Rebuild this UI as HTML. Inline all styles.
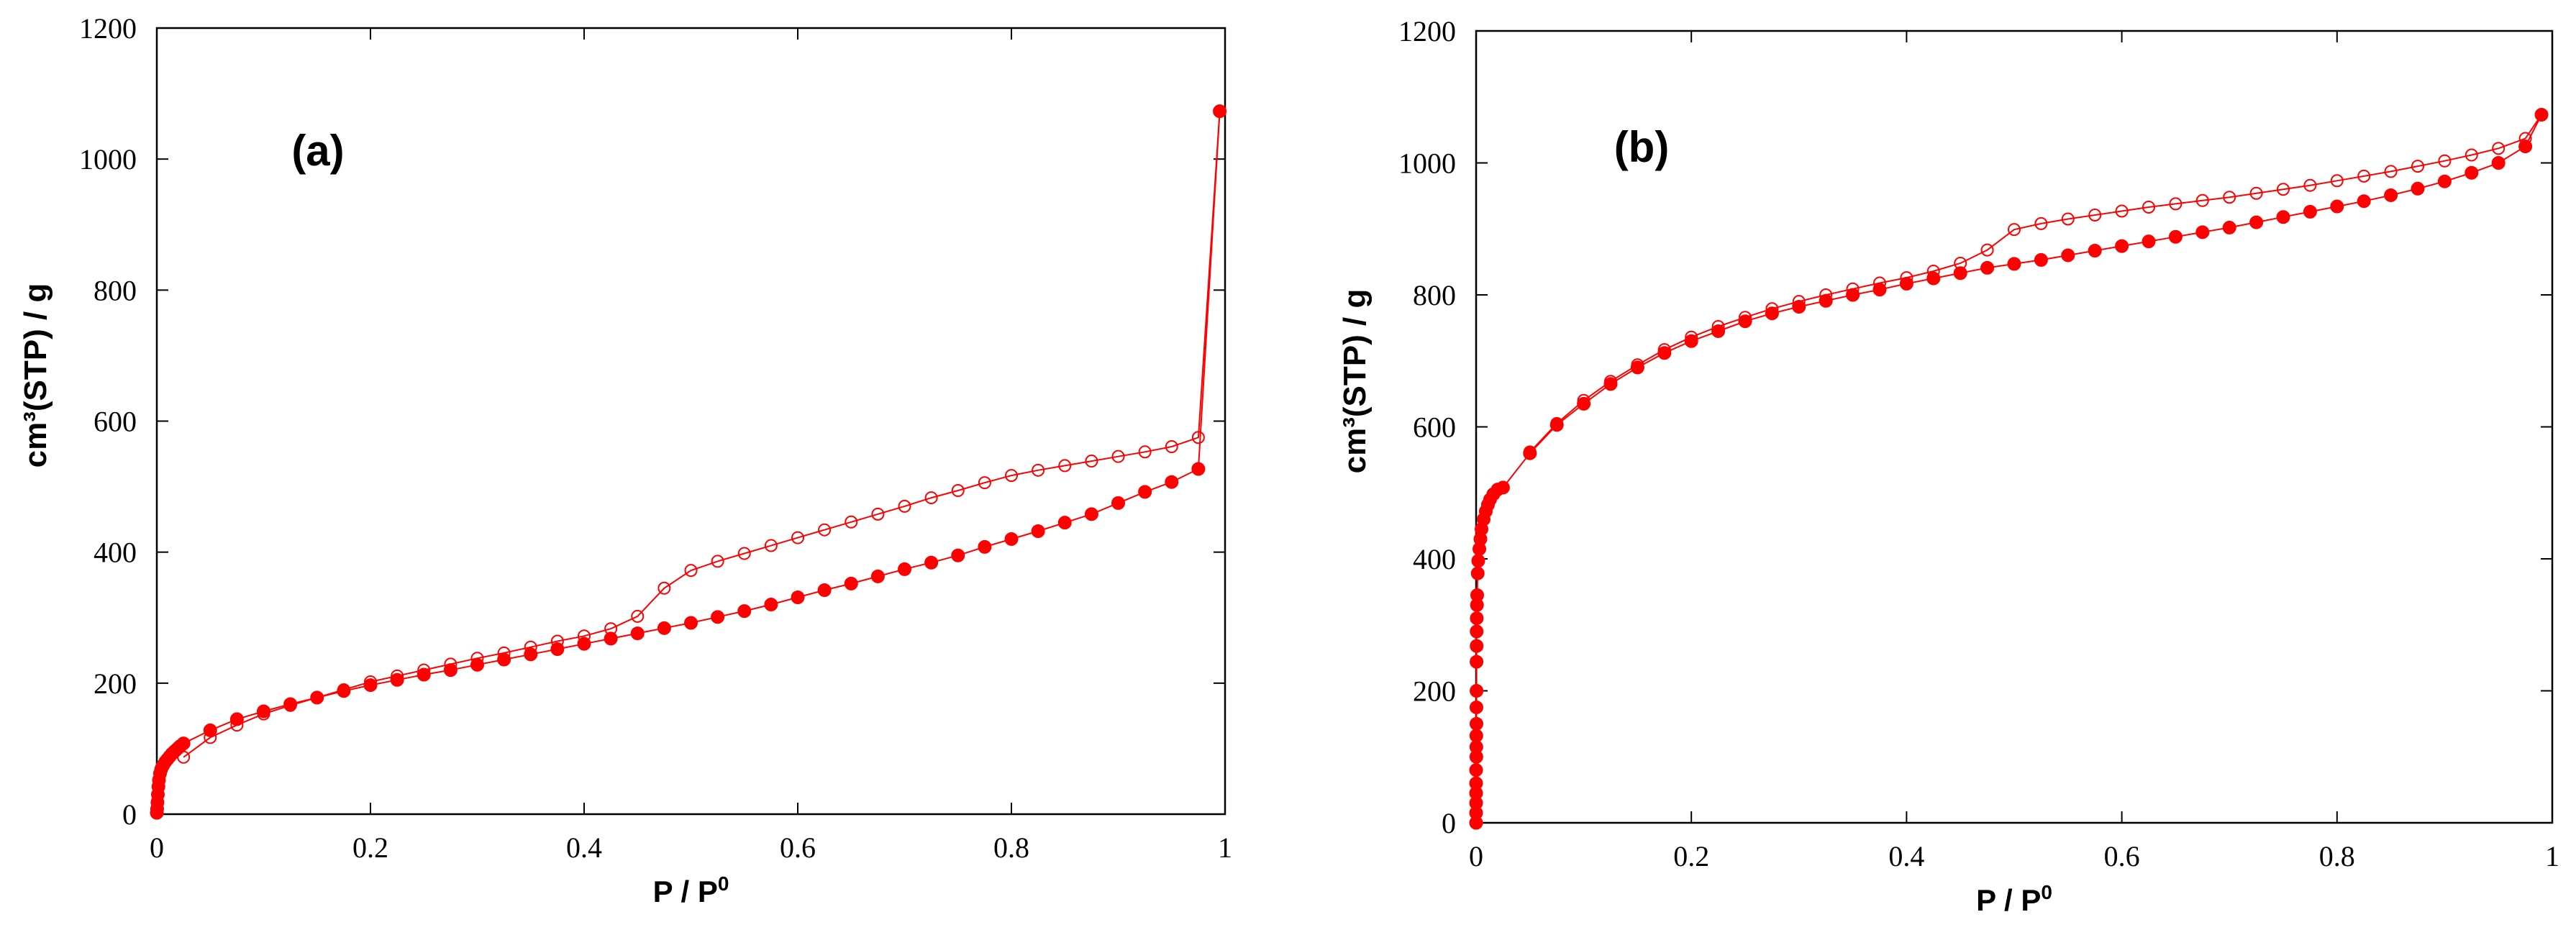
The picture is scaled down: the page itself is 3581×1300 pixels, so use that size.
<!DOCTYPE html>
<html><head><meta charset="utf-8"><style>
html,body{margin:0;padding:0;background:#fff;}
svg{display:block;}
.tick{font-family:"Liberation Serif",serif;font-size:40px;fill:#000;}
.title{font-family:"Liberation Sans",sans-serif;font-weight:bold;fill:#000;}
</style></head><body>
<svg id="fig" width="3581" height="1300" viewBox="0 0 3581 1300" xmlns="http://www.w3.org/2000/svg"></svg>
<script>
// ---- Panel (a) data ----
const aAdsX = [0,0.0003,0.0006,0.001,0.0015,0.002,0.003,0.004,0.005,0.006,0.008,0.01,0.012,0.014,0.016,0.018,0.02,0.022,0.025,0.05,0.075,0.1,0.125,0.15,0.175,0.2,0.225,0.25,0.275,0.3,0.325,0.35,0.375,0.4,0.425,0.45,0.475,0.5,0.525,0.55,0.575,0.6,0.625,0.65,0.675,0.7,0.725,0.75,0.775,0.8,0.825,0.85,0.875,0.9,0.925,0.95,0.975,0.995];
const aAdsY = [2,8,18,30,42,52,62,68,72,75,80,84,88,92,95,98,101,104,108,128,145,157,168,178,188,197,205,213,220,228,236,244,252,260,268,276,284,292,301,310,320,331,342,352,363,374,384,395,408,420,432,445,458,475,492,507,527,1073];
const aDesX = [0.995,0.975,0.95,0.925,0.9,0.875,0.85,0.825,0.8,0.775,0.75,0.725,0.7,0.675,0.65,0.625,0.6,0.575,0.55,0.525,0.5,0.475,0.45,0.425,0.4,0.375,0.35,0.325,0.3,0.275,0.25,0.225,0.2,0.175,0.15,0.125,0.1,0.075,0.05,0.025];
const aDesY = [1073,575,561,553,546,539,532,525,517,506,494,483,470,458,446,434,422,410,398,386,372,345,302,283,272,264,255,246,238,229,220,211,202,190,178,166,153,136,117,87];
// ---- Panel (b) data ----
const bAdsX = [0,0,0,0,0,0,0.0002,0.0002,0.0002,0.0003,0.0003,0.0004,0.0004,0.0005,0.0005,0.0006,0.0008,0.001,0.0015,0.002,0.003,0.004,0.005,0.007,0.009,0.011,0.013,0.016,0.02,0.025,0.05,0.075,0.1,0.125,0.15,0.175,0.2,0.225,0.25,0.275,0.3,0.325,0.35,0.375,0.4,0.425,0.45,0.475,0.5,0.525,0.55,0.575,0.6,0.625,0.65,0.675,0.7,0.725,0.75,0.775,0.8,0.825,0.85,0.875,0.9,0.925,0.95,0.975,0.99];
const bAdsY = [0,15,30,45,60,80,100,115,132,150,175,200,244,268,290,310,330,345,378,397,415,430,445,460,472,482,490,498,505,508,560,603,635,665,690,712,730,745,760,772,782,791,800,808,817,825,833,841,847,853,860,867,874,881,888,895,902,910,918,926,934,942,951,961,972,985,1000,1025,1073];
const bDesX = [0.99,0.975,0.95,0.925,0.9,0.875,0.85,0.825,0.8,0.775,0.75,0.725,0.7,0.675,0.65,0.625,0.6,0.575,0.55,0.525,0.5,0.475,0.45,0.425,0.4,0.375,0.35,0.325,0.3,0.275,0.25,0.225,0.2,0.175,0.15,0.125,0.1,0.075,0.05];
const bDesY = [1073,1037,1022,1012,1003,995,987,980,973,966,960,954,948,943,938,933,927,921,915,908,899,868,848,836,826,818,809,800,790,779,766,752,736,717,694,669,640,605,562];
const xTicks = [0,0.2,0.4,0.6,0.8,1];
const xTickLabels = ["0","0.2","0.4","0.6","0.8","1"];
const yTicks = [0,200,400,600,800,1000,1200];
const yTickLabels = ["0","200","400","600","800","1000","1200"];

const NS="http://www.w3.org/2000/svg";
const svg=document.getElementById('fig');
function mk(tag,attrs,parent){const e=document.createElementNS(NS,tag);for(const k in attrs)e.setAttribute(k,attrs[k]);(parent||svg).appendChild(e);return e;}

function panel(cfg){
  const g=mk('g',{});
  
  
  const sx=v=>cfg.x0+v*(cfg.x1-cfg.x0);
  const sy=v=>cfg.yb-v/1200*(cfg.yb-cfg.yt);
  const fr=mk('rect',{x:cfg.x0,y:cfg.yt,width:cfg.x1-cfg.x0,height:cfg.yb-cfg.yt,fill:'none',stroke:'#000','stroke-width':2.5},g);
  
  
  xTicks.forEach((t,i)=>{
    const x=sx(t);
    mk('line',{x1:x,y1:cfg.yb,x2:x,y2:cfg.yb-16,stroke:'#000','stroke-width':2},g);
    mk('line',{x1:x,y1:cfg.yt,x2:x,y2:cfg.yt+16,stroke:'#000','stroke-width':2},g);
    const tx=mk('text',{x:x,y:cfg.yb+60,'text-anchor':'middle',class:'tick'},g);
    tx.textContent=xTickLabels[i];
    
    
  });
  yTicks.forEach((t,i)=>{
    const y=sy(t);
    mk('line',{x1:cfg.x0,y1:y,x2:cfg.x0+16,y2:y,stroke:'#000','stroke-width':2},g);
    mk('line',{x1:cfg.x1,y1:y,x2:cfg.x1-16,y2:y,stroke:'#000','stroke-width':2},g);
    const ty=mk('text',{x:cfg.x0-28,y:y+14,'text-anchor':'end',class:'tick'},g);
    ty.textContent=yTickLabels[i];
    
    
  });
  const xt=mk('text',{x:(cfg.x0+cfg.x1)/2,y:cfg.yb+122,'text-anchor':'middle',class:'title','font-size':42},g);
  xt.innerHTML='P / P<tspan dy="-16" font-size="28">0</tspan>';
  
  
  const yt=mk('text',{x:0,y:0,'text-anchor':'middle',class:'title','font-size':44,transform:`translate(${cfg.ytx},${cfg.yty}) rotate(-90)`},g);
  yt.textContent='cm³(STP) / g';
  
  
  const lab=mk('text',{x:cfg.lx,y:cfg.ly,'text-anchor':'middle',class:'title','font-size':60},g);
  lab.textContent=cfg.label;
  
  
  function series(xs,ys,filled,nm){
    const sg=mk('g',{},g);
    
    
    const pts=xs.map((v,i)=>sx(v).toFixed(1)+','+sy(ys[i]).toFixed(1)).join(' ');
    mk('polyline',{points:pts,fill:'none',stroke:'#ff0000','stroke-width':2},sg);
    xs.forEach((v,i)=>{
      const m=mk('ellipse',{cx:sx(v),cy:sy(ys[i]),rx:filled?9:8,ry:filled?9:8,fill:filled?'#ff0000':'none',stroke:'#ff0000','stroke-width':filled?1:2},sg);
      
      
    });
  }
  series(cfg.dx,cfg.dy,false,'desorption-series');
  series(cfg.ax,cfg.ay,true,'adsorption-series');
}
panel({name:'panel-a',x0:218,x1:1703,yt:39,yb:1132,ytx:64,yty:522,lx:442,ly:230,label:'(a)',ax:aAdsX,ay:aAdsY,dx:aDesX,dy:aDesY});
panel({name:'panel-b',x0:2052,x1:3548,yt:43,yb:1144,ytx:1898,yty:530,lx:2282,ly:225,label:'(b)',ax:bAdsX,ay:bAdsY,dx:bDesX,dy:bDesY});
</script>
</body></html>
